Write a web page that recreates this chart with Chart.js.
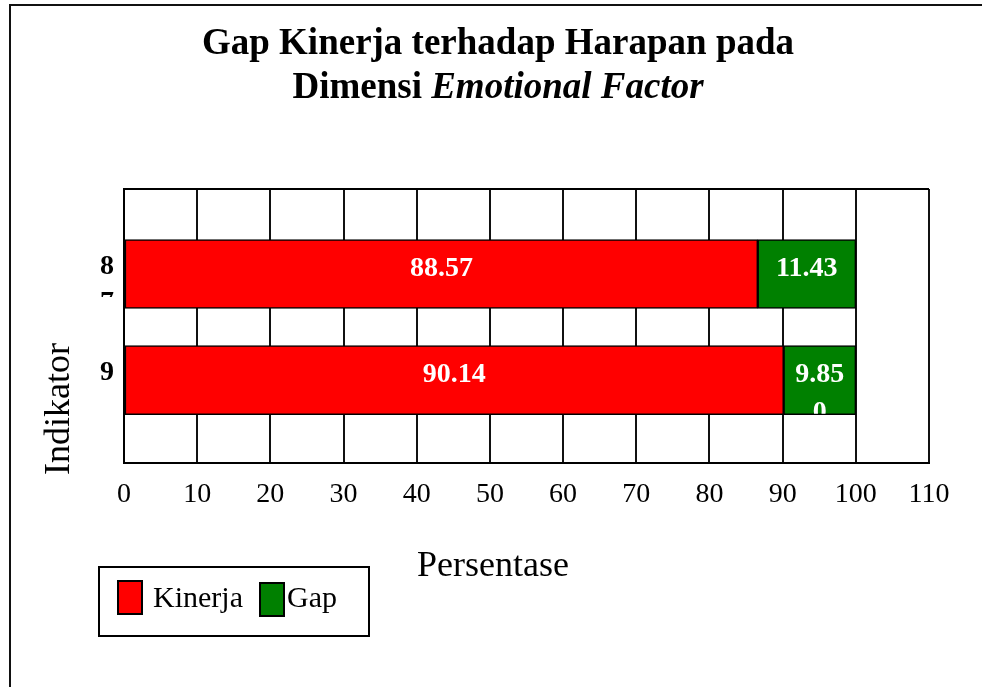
<!DOCTYPE html>
<html>
<head>
<meta charset="utf-8">
<script src="https://cdn.jsdelivr.net/npm/chart.js@4/dist/chart.umd.min.js"></script>
<style>
  body { margin: 0; background: #fff; }
  #wrap { width: 982px; height: 687px; }
</style>
</head>
<body>
<div id="wrap"><canvas id="gap-chart" width="982" height="687"></canvas></div>
<script>
// indikator labels (the first one wraps and gets cut off in the original)
const indikator = [["8", "7"], ["9"]];
// bar lengths as drawn in the picture (first bar's labels don't match its length)
const kinerja = [86.6, 90.14];
const gap = [13.4, 9.86];
const kinerjaText = [["88.57"], ["90.14"]];
const gapText = [["11.43"], ["9.85", "0"]];
const xTicks = [0, 10, 20, 30, 40, 50, 60, 70, 80, 90, 100, 110];

const serif = '"Liberation Serif", "Times New Roman", serif';

const drawExtras = {
    id: "drawExtras",
    beforeDraw(chart) {
        const ctx = chart.ctx;
        ctx.save();
        ctx.fillStyle = "#fff";
        ctx.fillRect(0, 0, chart.width, chart.height);
        // outer frame (left + top only are visible)
        ctx.strokeStyle = "#111";
        ctx.lineWidth = 2;
        ctx.beginPath();
        ctx.moveTo(10, chart.height);
        ctx.lineTo(10, 5);
        ctx.lineTo(chart.width, 5);
        ctx.stroke();
        ctx.restore();
    },
    afterDraw(chart) {
        const ctx = chart.ctx;
        const area = chart.chartArea;
        ctx.save();

        // top edge of plot
        ctx.strokeStyle = "#000";
        ctx.lineWidth = 2;
        ctx.beginPath();
        ctx.moveTo(area.left, area.top);
        ctx.lineTo(area.right, area.top);
        ctx.stroke();

        // title
        ctx.fillStyle = "#000";
        ctx.textBaseline = "middle";
        ctx.textAlign = "center";
        ctx.font = "bold 37px " + serif;
        ctx.fillText("Gap Kinerja terhadap Harapan pada", 498, 44);
        const part1 = "Dimensi ";
        const part2 = "Emotional Factor";
        ctx.font = "bold 37px " + serif;
        const w1 = ctx.measureText(part1).width;
        ctx.font = "italic bold 37px " + serif;
        const w2 = ctx.measureText(part2).width;
        const start = 498 - (w1 + w2) / 2;
        ctx.textAlign = "left";
        ctx.font = "bold 37px " + serif;
        ctx.fillText(part1, start, 88);
        ctx.font = "italic bold 37px " + serif;
        ctx.fillText(part2, start + w1, 88);

        // axis titles
        ctx.font = "36px " + serif;
        ctx.textAlign = "center";
        ctx.fillText("Persentase", 493, 567);
        ctx.save();
        ctx.translate(60, 409);
        ctx.rotate(-Math.PI / 2);
        ctx.fillText("Indikator", 0, 0);
        ctx.restore();

        // category labels and bar labels
        const kMeta = chart.getDatasetMeta(0);
        const gMeta = chart.getDatasetMeta(1);
        kMeta.data.forEach((bar, i) => {
            const cy = bar.y;
            const h = bar.height;
            ctx.save();
            ctx.beginPath();
            ctx.rect(80, cy - h / 2, 44, h / 2 + 23);
            ctx.clip();
            ctx.font = "bold 28px " + serif;
            ctx.fillStyle = "#000";
            indikator[i].forEach((line, j) => {
                ctx.fillText(line, 107, cy - 7 + j * 36);
            });
            ctx.restore();
        });

        const drawBarText = (meta, texts) => {
            meta.data.forEach((bar, i) => {
                const left = Math.min(bar.x, bar.base);
                const right = Math.max(bar.x, bar.base);
                const top = bar.y - bar.height / 2;
                ctx.save();
                ctx.beginPath();
                ctx.rect(left, top, right - left, bar.height - 1);
                ctx.clip();
                ctx.font = "bold 28px " + serif;
                ctx.fillStyle = "#fff";
                ctx.textAlign = "center";
                texts[i].forEach((line, j) => {
                    ctx.fillText(line, (left + right) / 2, bar.y - 5 + j * 38);
                });
                ctx.restore();
            });
        };
        drawBarText(kMeta, kinerjaText);
        drawBarText(gMeta, gapText);

        // legend
        ctx.strokeStyle = "#000";
        ctx.lineWidth = 2;
        ctx.strokeRect(99, 567, 270, 69);
        const items = chart.data.datasets;
        const slots = [{ x: 118, y: 581, tx: 153 }, { x: 260, y: 583, tx: 287 }];
        ctx.textAlign = "left";
        ctx.font = "30px " + serif;
        items.forEach((ds, i) => {
            const s = slots[i];
            ctx.fillStyle = ds.backgroundColor;
            ctx.fillRect(s.x, s.y, 24, 33);
            ctx.strokeStyle = "#000";
            ctx.lineWidth = 2;
            ctx.strokeRect(s.x, s.y, 24, 33);
            ctx.fillStyle = "#000";
            ctx.fillText(ds.label, s.tx, 599);
        });

        ctx.restore();
    }
};

const ctx = document.getElementById("gap-chart").getContext("2d");
new Chart(ctx, {
    type: "bar",
    data: {
        datasets: [{
            label: "Kinerja",
            data: kinerja.map((v, i) => ({ x: v, y: i })),
            backgroundColor: "#ff0000",
            borderColor: "#000",
            borderWidth: 1.5,
            borderSkipped: false,
            barThickness: 69
        }, {
            label: "Gap",
            data: gap.map((v, i) => ({ x: v, y: i })),
            backgroundColor: "#008000",
            borderColor: "#000",
            borderWidth: 1.5,
            borderSkipped: false,
            barThickness: 69
        }]
    },
    options: {
        indexAxis: "y",
        responsive: false,
        animation: false,
        layout: { padding: { top: 189, right: 53, left: 0, bottom: 0 } },
        plugins: {
            legend: { display: false },
            tooltip: { enabled: false }
        },
        scales: {
            x: {
                type: "linear",
                stacked: true,
                min: xTicks[0],
                max: xTicks[xTicks.length - 1],
                afterBuildTicks: scale => {
                    scale.ticks = xTicks.map(v => ({ value: v }));
                },
                afterFit: scale => { scale.height = 224; },
                grid: { color: "#111", lineWidth: 2, drawTicks: false },
                border: { color: "#000", width: 2 },
                ticks: {
                    padding: 15,
                    color: "#000",
                    font: { family: serif, size: 28 }
                }
            },
            y: {
                type: "linear",
                stacked: true,
                reverse: true,
                offset: false,
                min: -0.8,
                max: 1.78,
                afterFit: scale => { scale.width = 124; },
                grid: { display: false },
                border: { color: "#000", width: 2 },
                ticks: { display: false }
            }
        }
    },
    plugins: [drawExtras]
});
</script>
</body>
</html>
